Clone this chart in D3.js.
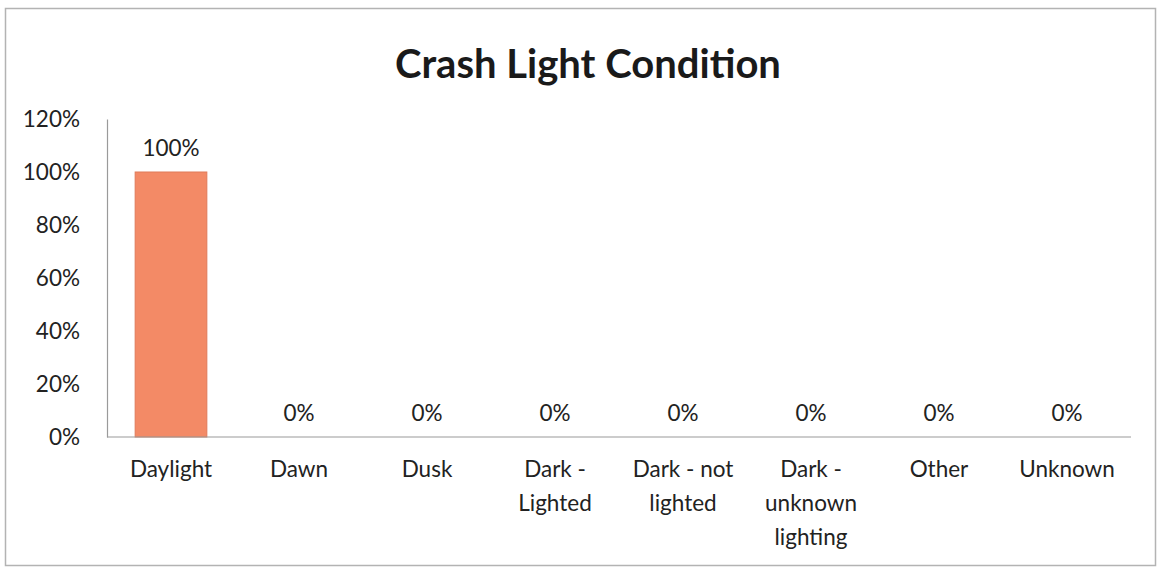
<!DOCTYPE html>
<html>
<head>
<meta charset="utf-8">
<script src="https://cdn.jsdelivr.net/npm/d3@7"></script>
<style>
  html, body { margin: 0; padding: 0; background: #fff; }
  svg { display: block; }
  text { font-family: Lato, "Open Sans", sans-serif; fill: #222; }
</style>
</head>
<body>
<svg id="chart" width="1161" height="569"></svg>
<script>
// Share of crashes by light condition
const categories = ["Daylight", "Dawn", "Dusk", "Dark - Lighted", "Dark - not lighted", "Dark - unknown lighting", "Other", "Unknown"];
const categoryLines = [["Daylight"], ["Dawn"], ["Dusk"], ["Dark -", "Lighted"], ["Dark - not", "lighted"], ["Dark -", "unknown", "lighting"], ["Other"], ["Unknown"]];
const values = [100, 0, 0, 0, 0, 0, 0, 0];
const yTicks = [0, 20, 40, 60, 80, 100, 120];
const title = "Crash Light Condition";

const svg = d3.select("#chart");
const W = 1161, H = 569;
const plot = { left: 107, right: 1131, top: 119, bottom: 437 };
const labelSize = "22.5px";

// outer chart frame
svg.append("rect")
  .attr("x", 5.5).attr("y", 8.5)
  .attr("width", W - 11).attr("height", H - 12)
  .attr("fill", "#fff").attr("stroke", "#b3b3b3").attr("stroke-width", 1.5);

const x = d3.scaleBand()
  .domain(categories)
  .range([plot.left, plot.right])
  .paddingInner(0.44)
  .paddingOuter(0.22);

const y = d3.scaleLinear().domain([0, 120]).range([plot.bottom, plot.top]);

// title
svg.append("text")
  .attr("x", 588).attr("y", 78)
  .attr("text-anchor", "middle")
  .style("font-size", "40px").style("font-weight", "bold")
  .style("fill", "#1a1a1a")
  .text(title);

// y axis
const yAxis = d3.axisLeft(y).tickValues(yTicks).tickFormat(d => d + "%").tickSize(0).tickPadding(27);
const gy = svg.append("g").attr("transform", `translate(${plot.left},0)`).call(yAxis);
gy.select(".domain").attr("stroke", "#9a9a9a").attr("stroke-width", 1.2);
gy.selectAll("text").style("font-size", labelSize).style("font-family", "Lato, 'Open Sans', sans-serif").attr("fill", "#222");

// bars
svg.append("g").selectAll("rect")
  .data(values)
  .join("rect")
  .attr("x", (d, i) => x(categories[i]))
  .attr("y", d => y(d))
  .attr("width", x.bandwidth())
  .attr("height", d => y(0) - y(d))
  .attr("fill", "#f38a66")
  .attr("stroke", "#e07a58")
  .attr("stroke-width", 1);

// x axis baseline
svg.append("line")
  .attr("x1", plot.left).attr("x2", plot.right)
  .attr("y1", y(0)).attr("y2", y(0))
  .attr("stroke", "#9a9a9a").attr("stroke-width", 1.2);

// value labels
svg.append("g").selectAll("text")
  .data(values)
  .join("text")
  .attr("x", (d, i) => x(categories[i]) + x.bandwidth() / 2)
  .attr("y", d => y(d) - 16)
  .attr("text-anchor", "middle")
  .style("font-size", labelSize)
  .text(d => d + "%");

// category labels, wrapped
const cat = svg.append("g").selectAll("text")
  .data(categories)
  .join("text")
  .attr("x", d => x(d) + x.bandwidth() / 2)
  .attr("y", 477)
  .attr("text-anchor", "middle")
  .style("font-size", labelSize);
cat.each(function(d, i) {
  const t = d3.select(this);
  categoryLines[i].forEach((line, k) => {
    t.append("tspan")
      .attr("x", x(d) + x.bandwidth() / 2)
      .attr("dy", k === 0 ? 0 : 34)
      .text(line);
  });
});
</script>
</body>
</html>
